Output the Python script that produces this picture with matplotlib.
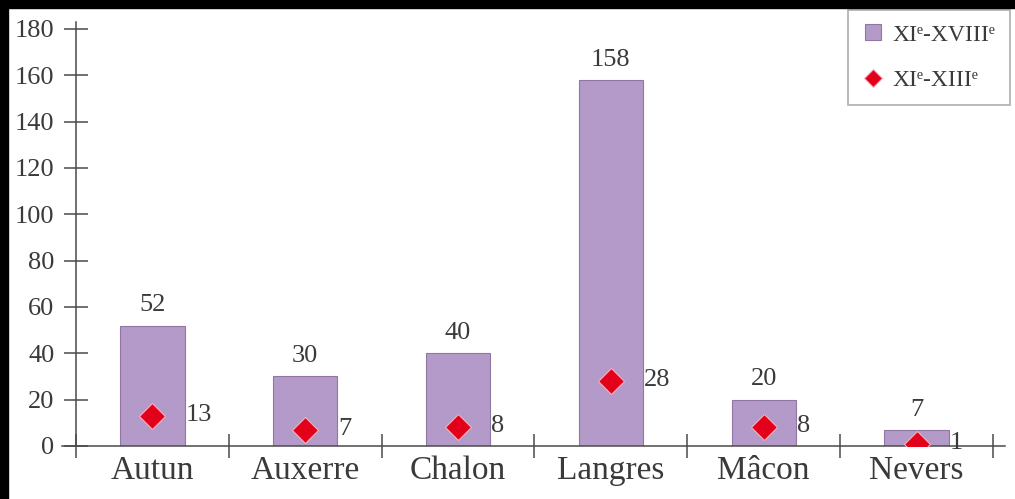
import matplotlib.pyplot as plt
from matplotlib.patches import Rectangle
from matplotlib.lines import Line2D

plt.rcParams['font.family'] = ['Liberation Serif', 'DejaVu Serif', 'DejaVu Sans']

dioceses = ["Autun", "Auxerre", "Chalon", "Langres", "Mâcon", "Nevers"]
total = [52, 30, 40, 158, 20, 7]        # XIe-XVIIIe
early = [13, 7, 8, 28, 8, 1]            # XIe-XIIIe
yticks = [0, 20, 40, 60, 80, 100, 120, 140, 160, 180]

txt = "#3a3a3a"
axc = "#4a4a4a"
bar_c = "#b49ac8"
red = "#e3001b"

fig = plt.figure(figsize=(10.15, 4.99), dpi=100)
ax = fig.add_axes([62/1015, 53/499, (1005-62)/1015, (446-22)/499])

x = list(range(len(dioceses)))
ax.bar(x, total, width=0.42, color=bar_c, edgecolor="#8f76a3", linewidth=0.8, zorder=2)
ax.plot(x, early, linestyle="none", marker="D", markersize=13, color=red,
        markeredgecolor="#f7b0bd", markeredgewidth=0.8, zorder=3)

for i in x:
    ax.text(i, total[i] + 4, str(total[i]), ha="center", va="bottom", fontsize=19, color=txt)
    ax.text(i + 0.215, early[i] + 0.5, str(early[i]), ha="left", va="center", fontsize=19, color=txt)

ax.set_xlim(-0.592, 5.579)
ax.set_ylim(0, 183)

for s in ["top", "right"]:
    ax.spines[s].set_visible(False)
ax.spines["left"].set_position(("data", -0.5))
ax.spines["left"].set_color(axc)
ax.spines["bottom"].set_color(axc)
ax.spines["left"].set_linewidth(1.1)
ax.spines["bottom"].set_linewidth(1.1)

ax.set_yticks(yticks)
ax.set_yticklabels([str(v) for v in yticks], fontsize=19, color=txt)
ax.tick_params(axis="y", direction="inout", length=17, width=1.1, color=axc, pad=7)

ax.set_xticks([i - 0.5 for i in range(len(dioceses) + 1)])
ax.set_xticklabels([""] * (len(dioceses) + 1))
ax.tick_params(axis="x", which="major", direction="inout", length=17, width=1.1, color=axc)
ax.set_xticks(x, minor=True)
ax.set_xticklabels(dioceses, minor=True, fontsize=24, color=txt)
ax.tick_params(axis="x", which="minor", length=0, pad=7)

handles = [
    Line2D([], [], linestyle="none", marker="s", markersize=12, color=bar_c,
           markeredgecolor="#8f76a3", markeredgewidth=0.8),
    Line2D([], [], linestyle="none", marker="D", markersize=9, color=red,
           markeredgecolor="#f7b0bd", markeredgewidth=0.8),
]
labels = ["XI\u1d49-XVIII\u1d49", "XI\u1d49-XIII\u1d49"]
leg = fig.legend(handles, labels, loc="upper left", bbox_to_anchor=(848/1015, 1 - 10/499),
                 borderaxespad=0, fontsize=17, frameon=True, fancybox=False,
                 edgecolor="#9a9a9a", handlelength=0.9, handletextpad=0.4,
                 labelspacing=1.0, borderpad=0.6, labelcolor=txt)
leg.get_frame().set_linewidth(1.2)

# black border on top and left of the scanned figure
fig.patches.append(Rectangle((0, 1 - 8/499), 1, 8/499, transform=fig.transFigure,
                             color="black", zorder=10))
fig.patches.append(Rectangle((0, 0), 8/1015, 1, transform=fig.transFigure,
                             color="black", zorder=10))

fig.savefig("out.png", dpi=100)
